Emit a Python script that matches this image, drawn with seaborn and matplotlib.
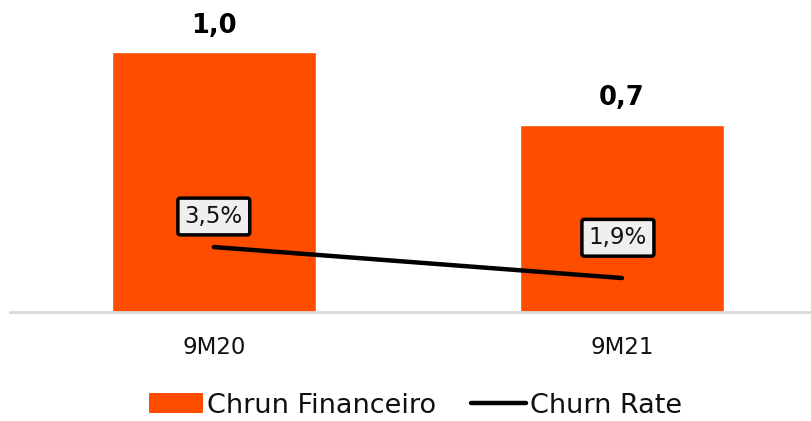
import numpy as np
import pandas as pd
import matplotlib
matplotlib.use("Agg")
import matplotlib.pyplot as plt
import seaborn as sns
from matplotlib.patches import Patch
from matplotlib.lines import Line2D

# data
periods = ["9M20", "9M21"]
chrun_financeiro = [1.0, 0.72]
churn_rate = [3.5, 1.9]

ORANGE = "#FF4D00"

sns.set_theme(style="white")
plt.rcParams["font.family"] = ["DejaVu Sans"]

df = pd.DataFrame({"period": periods, "chrun": chrun_financeiro, "rate": churn_rate})

fig = plt.figure(figsize=(8.11, 4.21), dpi=100)
ax = fig.add_axes([0.012, 0.259, 0.988, 0.741])

sns.barplot(data=df, x="period", y="chrun", color=ORANGE, saturation=1,
            width=0.5, ax=ax)
ax.set_xlim(-0.5, 1.463)
ax.set_ylim(0, 1.2)
ax.set_xlabel("")
ax.set_ylabel("")
ax.set_yticks([])
ax.tick_params(axis="x", length=0, labelsize=16.5, pad=17, colors="#111111")
for s in ["top", "right", "left"]:
    ax.spines[s].set_visible(False)
ax.spines["bottom"].set_color("#D9D9D9")
ax.spines["bottom"].set_linewidth(2)

# bar value labels
for i, v in enumerate(chrun_financeiro):
    ax.annotate(f"{v:.1f}".replace(".", ","), (i, v), xytext=(0, 19),
                textcoords="offset points", ha="center", va="center",
                fontsize=18.5, fontweight="bold", color="black")

# churn rate on secondary axis
ax2 = ax.twinx()
pos = np.arange(len(periods))
sns.lineplot(x=pos, y=churn_rate, color="black", linewidth=3.2, ax=ax2,
             solid_capstyle="round")
ax2.set_ylim(0.15, 16.25)
ax2.set_yticks([])
ax2.set_ylabel("")
for s in ax2.spines.values():
    s.set_visible(False)

offsets = [22, 29]
for i, v in enumerate(churn_rate):
    ax2.annotate(f"{v:.1f}".replace(".", ",") + "%", (i - 0.01 * i, v),
                 xytext=(0, offsets[i]), textcoords="offset points",
                 ha="center", va="center", fontsize=16.5, color="#111111",
                 bbox=dict(boxstyle="round,pad=0.3,rounding_size=0.1",
                           facecolor="#EFEFEF", edgecolor="black", linewidth=2.5))

handles = [Patch(facecolor=ORANGE, edgecolor="none"),
           Line2D([0], [0], color="black", linewidth=3.2)]
fig.legend(handles, ["Chrun Financeiro", "Churn Rate"], loc="center",
           bbox_to_anchor=(0.512, 0.036), ncol=2, frameon=False, fontsize=19.5,
           handlelength=2.0, handleheight=0.75, handletextpad=0.15,
           columnspacing=1.3, labelcolor="#111111", borderpad=0.2)

fig.savefig("out.png", dpi=100)
